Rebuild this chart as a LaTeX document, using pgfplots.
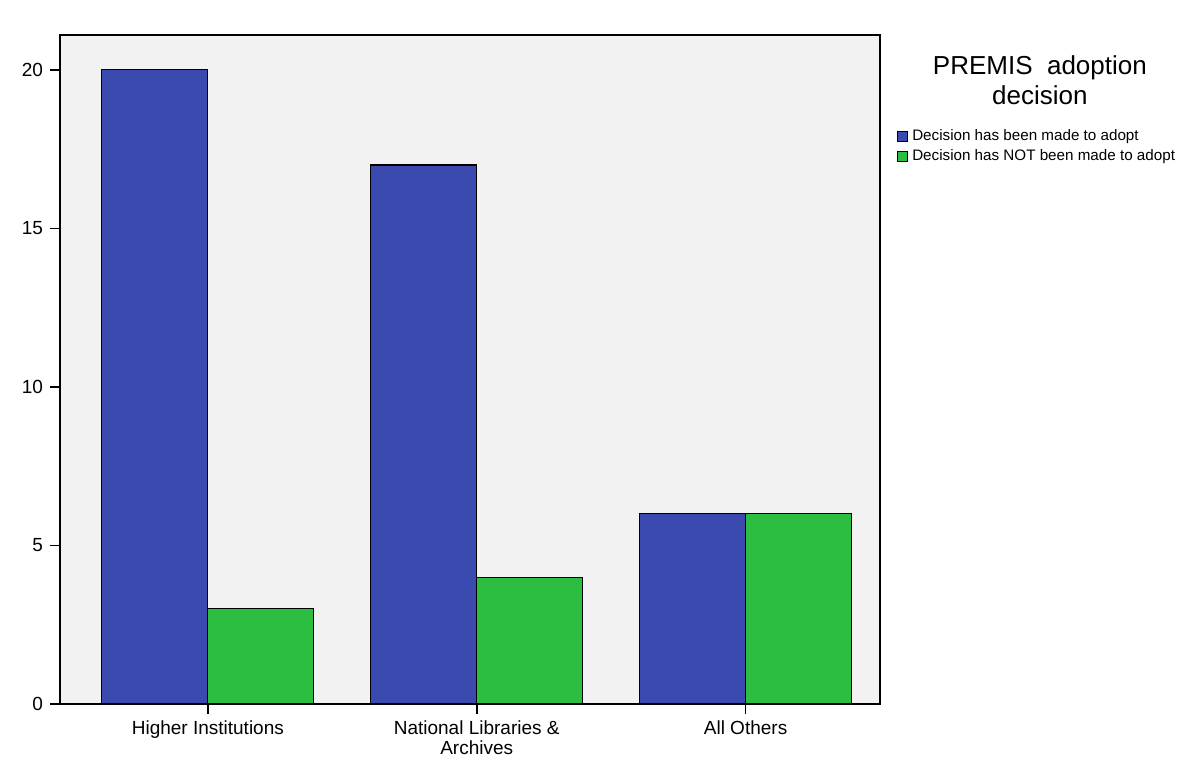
\documentclass[border=0pt]{standalone}
\usepackage{pgfplots}
\pgfplotsset{compat=1.18}
\usepackage{fontspec}
\setmainfont{Liberation Sans}
\definecolor{barblue}{RGB}{58,74,175}
\definecolor{bargreen}{RGB}{44,190,64}
\definecolor{bggray}{RGB}{242,242,242}
\begin{document}
\begin{tikzpicture}
\begin{axis}[
  at={(0,0)}, anchor=south west,
  scale only axis, width=410pt, height=334.5pt,
  clip=false,
  axis background/.style={fill=bggray},
  ybar=0pt, bar width=53pt,
  xmin=-0.55, xmax=2.5, ymin=0, ymax=21.1,
  xtick={0,1,2},
  xticklabels={Higher Institutions, National Libraries \&\\Archives, All Others},
  xticklabel style={align=center, font=\fontsize{9.5}{10}\selectfont},
  ytick={0,5,10,15,20},
  yticklabel style={font=\fontsize{9.5}{10}\selectfont},
  /pgf/number format/assume math mode=true,
  xtick pos=left, ytick pos=left, tick align=outside,
  major tick length=5pt,
  tick style={black, thick},
  axis line style={black, thick},
  legend style={at={(1.02,0.865)}, anchor=north west, draw=none, fill=none,
    font=\fontsize{7.6}{8}\selectfont, row sep=-1pt, inner sep=0pt,
    legend cell align=left},
  legend image code/.code={\draw[#1, draw=black] (0cm,-0.09cm) rectangle (0.18cm,0.09cm);},
]
\addplot[fill=barblue, draw=black, semithick] coordinates {(0,20) (1,17) (2,6)};
\addplot[fill=bargreen, draw=black, semithick] coordinates {(0,3) (1,4) (2,6)};
\legend{Decision has been made to adopt, Decision has NOT been made to adopt}
\node[align=center, font=\fontsize{13}{15}\selectfont] at (rel axis cs:1.195,0.933) {PREMIS\ \ adoption\\decision};
\end{axis}
\pgfresetboundingbox
\path (-30pt,-35pt) rectangle (565.5pt,352pt);
\end{tikzpicture}
\end{document}
